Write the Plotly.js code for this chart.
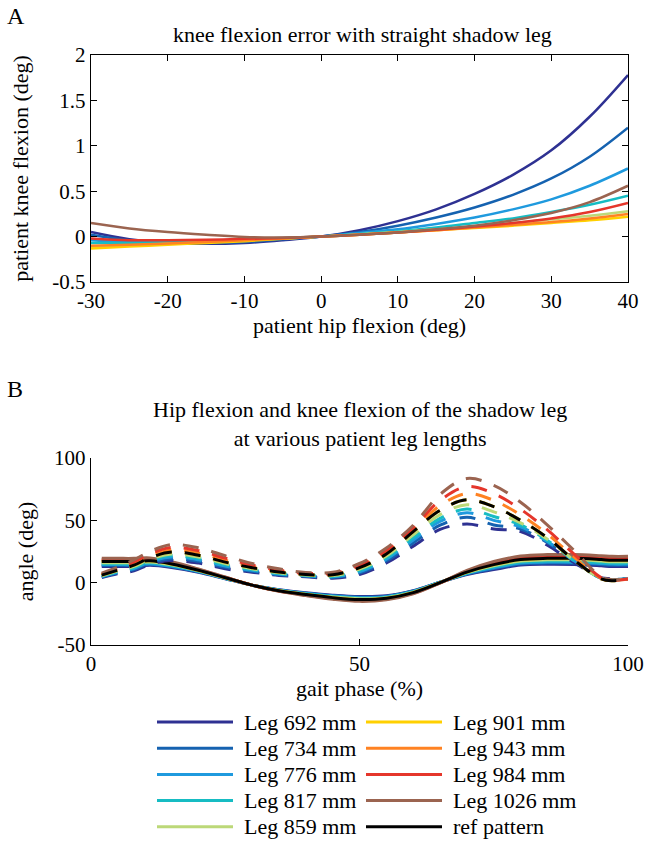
<!DOCTYPE html>
<html><head><meta charset="utf-8">
<script src="https://cdn.plot.ly/plotly-3.0.1.min.js"></script>
<style>html,body{margin:0;padding:0;background:#fff}#chart{width:667px;height:843px}</style>
</head><body><div id="chart"></div>
<script>
// ---------- DATA ----------
const legendNames = ['Leg 692 mm','Leg 734 mm','Leg 776 mm','Leg 817 mm','Leg 859 mm',
                     'Leg 901 mm','Leg 943 mm','Leg 984 mm','Leg 1026 mm','ref pattern'];

// Panel A: knee flexion error vs patient hip flexion
const hipFlexionA = [-30,-25,-20,-15,-10,-5,0,5,10,15,20,25,30,35,40];
const err692  = [0.05,-0.03,-0.07,-0.08,-0.07,-0.04,0,0.07,0.17,0.30,0.47,0.68,0.95,1.32,1.78];
const err734  = [0.02,-0.04,-0.06,-0.07,-0.06,-0.03,0,0.05,0.12,0.21,0.32,0.46,0.64,0.88,1.20];
const err776  = [-0.04,-0.06,-0.06,-0.05,-0.04,-0.02,0,0.04,0.08,0.14,0.21,0.30,0.41,0.56,0.75];
const err817  = [-0.07,-0.07,-0.06,-0.05,-0.03,-0.015,0,0.03,0.06,0.10,0.15,0.20,0.27,0.35,0.45];
const err859  = [-0.12,-0.10,-0.08,-0.06,-0.04,-0.02,0,0.025,0.05,0.08,0.11,0.15,0.19,0.23,0.28];
const err901  = [-0.13,-0.11,-0.09,-0.07,-0.05,-0.025,0,0.02,0.045,0.07,0.095,0.12,0.15,0.18,0.22];
const err943  = [-0.10,-0.09,-0.075,-0.06,-0.04,-0.02,0,0.02,0.045,0.07,0.10,0.13,0.16,0.20,0.25];
const err984  = [-0.02,-0.04,-0.04,-0.035,-0.025,-0.015,0,0.02,0.045,0.075,0.11,0.15,0.20,0.27,0.37];
const err1026 = [0.15,0.09,0.05,0.02,-0.005,-0.01,0,0.02,0.045,0.08,0.12,0.18,0.26,0.38,0.56];

// Panel B: gait phase (%) and shadow-leg angles (deg)
const gaitPhase = [2,5,8,11,15,20,25,30,35,40,45,50,55,60,65,70,75,80,85,90,95,97,100];
// hip flexion (solid)
const hip692  = [13,13,13,13.9,12.2,8.4,3.2,-2,-5.7,-8.1,-10,-11.1,-10.5,-6.4,0.4,6.5,10.5,14.1,14.7,14.5,13.5,13,13];
const hip734  = [13.8,13.8,13.8,14.6,12.8,8.7,3.4,-2,-5.9,-8.4,-10.4,-11.6,-10.9,-6.7,0.3,6.9,11.3,15,15.7,15.5,14.5,14,14];
const hip776  = [14.5,14.5,14.5,15.2,13.2,9,3.5,-2,-6,-8.6,-10.7,-12,-11.2,-7,0.3,7.3,12,15.7,16.5,16.4,15.4,14.9,14.9];
const hip817  = [15.2,15.2,15.2,15.9,13.7,9.3,3.6,-2,-6.1,-8.9,-11.1,-12.4,-11.6,-7.3,0.2,7.6,12.7,16.5,17.3,17.2,16.2,15.7,15.7];
const hip859  = [16,16,16,16.6,14.3,9.6,3.8,-2,-6.3,-9.2,-11.5,-12.9,-12,-7.6,0.1,8,13.5,17.4,18.3,18.3,17.3,16.8,16.8];
const hip901  = [17,17,17,17.5,15,10,4,-2,-6.5,-9.5,-12,-13.5,-12.5,-8,0,8.5,14.5,18.5,19.5,19.5,18.5,18,18];
const hip943  = [17.7,17.7,17.7,18.1,15.5,10.3,4.1,-2,-6.6,-9.7,-12.4,-13.9,-12.9,-8.3,-0.1,8.9,15.2,19.3,20.3,20.4,19.4,18.9,18.9];
const hip984  = [18.5,18.5,18.5,18.9,16,10.6,4.3,-2,-6.8,-10,-12.8,-14.4,-13.3,-8.6,-0.2,9.3,16,20.1,21.3,21.4,20.4,19.9,19.9];
const hip1026 = [19.5,19.5,19.5,19.8,16.8,11,4.5,-2,-7,-10.4,-13.3,-15,-13.8,-9,-0.3,9.8,17,21.3,22.5,22.6,21.6,21.1,21.1];
const hipRef  = [17,17,17,17.5,15,10,4,-2,-6.5,-9.5,-12,-13.5,-12.5,-8,0,8.5,14.5,18.5,19.5,19.5,18.5,18,18];
// knee flexion (dashed)
const knee692  = [4.2,7.3,9.5,14.6,17.7,15.7,11.1,8.4,5.8,4.7,3.6,6.6,15.8,29.3,42.7,47,43,41,30,16,3.9,3.3,3];
const knee734  = [4.6,7.9,10.5,15.8,19.2,17.1,12.3,9.2,6.4,5.1,4.2,7.8,17.4,31.9,46.1,52.5,46.3,43,32.1,17.3,3.7,2.9,3];
const knee776  = [5,8.4,11.4,16.8,20.5,18.3,13.3,9.9,6.9,5.5,4.7,8.8,18.8,34.2,49.1,56,50,44.7,33.1,17.5,3.5,2.6,3];
const knee817  = [5.3,8.9,12.1,17.8,21.7,19.4,14.3,10.5,7.4,5.8,5.2,9.8,20,36.1,51.6,59,53.1,46.3,33.9,17.6,3.4,2.3,3];
const knee859  = [5.6,9.4,13,18.8,23,20.6,15.3,11.2,7.9,6.1,5.7,10.8,21.4,38.4,54.6,62.5,56.8,48,34.9,17.8,3.2,1.9,3];
const knee901  = [6,10,14,20,24.5,22,16.5,12,8.5,6.5,6.3,12,23,41,58,66.5,61,50,36,18,3,1.5,3];
const knee943  = [6.5,10.8,15.3,21.5,26.3,23.8,18,13,9.3,7,6.9,13,24.4,42.5,61.8,71.5,66,54.3,39,20.3,3.5,1.8,3];
const knee984  = [7.1,11.6,16.6,23.2,28.2,25.7,19.7,14.1,10.1,7.6,7.6,14.1,25.9,44.2,65.9,77,71.5,58.9,42.3,22.7,4.1,2,3];
const knee1026 = [7.7,12.6,18.3,25.1,30.5,28,21.6,15.4,11.1,8.2,8.3,15.4,27.8,46.1,70.8,83.5,78,64.5,46.2,25.7,4.7,2.4,3];
const kneeRef  = [6,10,14,20,24.5,22,16.5,12,8.5,6.5,6.3,12,23,41,58,66.5,61,50,36,18,3,1.5,3];

// tick labels
const hipTicksA = [-30,-20,-10,0,10,20,30,40];
const hipTickTextA = ['-30','-20','-10','0','10','20','30','40'];
const kneeTicksA = [-0.5,0,0.5,1,1.5,2];
const kneeTickTextA = ['-0.5','0','0.5','1','1.5','2'];
const gaitTicks = [0,50,100];
const gaitTickText = ['0','50','100'];
const angleTicks = [-50,0,50,100];
const angleTickText = ['-50','0','50','100'];

// ---------- STYLE / LAYOUT ----------
const colors = ['#2e3192','#1562b0','#1f9ade','#16bcc3','#bcd878','#ffd000','#ff8222','#e5362b','#9b6450','#000000'];
const errSeries = [err692,err734,err776,err817,err859,err901,err943,err984,err1026];
const hipSeries = [hip692,hip734,hip776,hip817,hip859,hip901,hip943,hip984,hip1026,hipRef];
const kneeSeries = [knee692,knee734,knee776,knee817,knee859,knee901,knee943,knee984,knee1026,kneeRef];

const W = 667, H = 843;
const px = v => v / W, py = v => 1 - v / H;
const FONT = 'Liberation Serif, Times New Roman, serif';
const f = (s) => ({family: FONT, size: s, color: '#000'});

const traces = [];
errSeries.forEach((ys, i) => traces.push({
  x: hipFlexionA, y: ys, xaxis: 'x', yaxis: 'y', type: 'scatter', mode: 'lines',
  name: legendNames[i], showlegend: false,
  line: {color: colors[i], width: 2.5, shape: 'spline'}
}));
hipSeries.forEach((ys, i) => traces.push({
  x: gaitPhase, y: ys, xaxis: 'x2', yaxis: 'y2', type: 'scatter', mode: 'lines',
  name: legendNames[i], showlegend: false,
  line: {color: colors[i], width: 3, shape: 'spline'}
}));
kneeSeries.forEach((ys, i) => traces.push({
  x: gaitPhase, y: ys, xaxis: 'x2', yaxis: 'y2', type: 'scatter', mode: 'lines',
  name: legendNames[i], showlegend: false,
  line: {color: colors[i], width: 3, shape: 'spline', dash: '16px,13px'}
}));

const axBase = {
  showgrid: false, zeroline: false, showline: true, linecolor: '#000', linewidth: 1.2,
  ticks: 'inside', ticklen: 6, tickcolor: '#000', tickwidth: 1.2, tickfont: f(21),
  tickmode: 'array', fixedrange: true
};

const shapes = [];
const annotations = [
  {text: 'A', x: px(5), y: py(16), xref: 'paper', yref: 'paper', xanchor: 'left', yanchor: 'middle', showarrow: false, font: f(24)},
  {text: 'knee flexion error with straight shadow leg', x: px(362), y: py(35), xref: 'paper', yref: 'paper', xanchor: 'center', yanchor: 'middle', showarrow: false, font: f(22)},
  {text: 'B', x: px(5), y: py(389), xref: 'paper', yref: 'paper', xanchor: 'left', yanchor: 'middle', showarrow: false, font: f(24)},
  {text: 'Hip flexion and knee flexion of the shadow leg<br>at various patient leg lengths', x: px(360), y: py(424), xref: 'paper', yref: 'paper', xanchor: 'center', yanchor: 'middle', showarrow: false, font: f(22)}
];
legendNames.forEach((name, i) => {
  const col = i < 5 ? 0 : 1, row = i % 5;
  const y = 722 + row * 26.2;
  const x0 = [157, 366][col], x1 = [233, 442][col], xt = [242, 451][col];
  shapes.push({type: 'line', xref: 'paper', yref: 'paper', x0: px(x0), x1: px(x1), y0: py(y), y1: py(y),
               line: {color: colors[i], width: 3}});
  annotations.push({text: name, x: px(xt), y: py(y), xref: 'paper', yref: 'paper', xanchor: 'left', yanchor: 'middle',
                    showarrow: false, font: f(22)});
});

const layout = {
  width: W, height: H, margin: {l: 0, r: 0, t: 0, b: 0},
  paper_bgcolor: '#fff', plot_bgcolor: '#fff', showlegend: false,
  font: f(21),
  xaxis: Object.assign({}, axBase, {domain: [px(91), px(628)], range: [-30, 40], anchor: 'y', mirror: 'ticks',
    tickvals: hipTicksA, ticktext: hipTickTextA, title: {text: 'patient hip flexion (deg)', font: f(22), standoff: 4}}),
  yaxis: Object.assign({}, axBase, {domain: [py(282), py(55)], range: [-0.5, 2], anchor: 'x', mirror: 'ticks',
    tickvals: kneeTicksA, ticktext: kneeTickTextA, title: {text: 'patient knee flexion (deg)', font: f(22), standoff: 17}}),
  xaxis2: Object.assign({}, axBase, {domain: [px(91), px(628)], range: [0, 100], anchor: 'y2',
    tickvals: gaitTicks, ticktext: gaitTickText, title: {text: 'gait phase (%)', font: f(22), standoff: 2}}),
  yaxis2: Object.assign({}, axBase, {domain: [py(645), py(458)], range: [-50, 100], anchor: 'x2',
    tickvals: angleTicks, ticktext: angleTickText, title: {text: 'angle (deg)', font: f(22), standoff: 14}}),
  shapes: shapes, annotations: annotations
};

Plotly.newPlot('chart', traces, layout, {displayModeBar: false, staticPlot: true});
</script></body></html>
